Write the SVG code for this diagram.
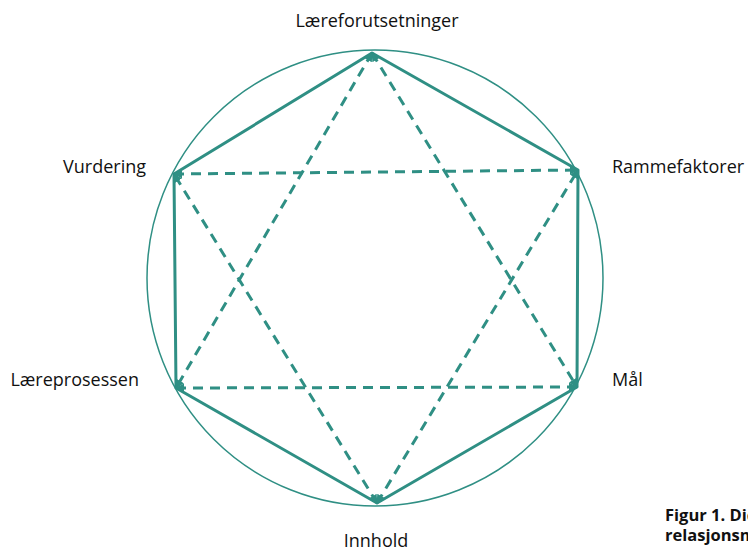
<svg xmlns="http://www.w3.org/2000/svg" width="748" height="549" viewBox="0 0 748 549">
<style>
.lbl{font-family:"Open Sans","Liberation Sans",sans-serif;font-size:18px;fill:#111}
.cap{font-family:"Open Sans","Liberation Sans",sans-serif;font-size:16.5px;font-weight:bold;fill:#111}
.solid{fill:none;stroke:#2F8F84;stroke-width:3;stroke-linejoin:round}
.dash{fill:none;stroke:#2F8F84;stroke-width:3;stroke-dasharray:10 7;marker-start:url(#ah);marker-end:url(#ah)}
</style>
<defs>
<marker id="ah" viewBox="0 0 10 10" refX="9" refY="5" markerWidth="3" markerHeight="3" orient="auto-start-reverse">
<path d="M0,0 L10,5 L0,10 z" fill="#2F8F84"/>
</marker>
</defs>
<rect width="748" height="549" fill="#fff"/>
<g id="circle"><circle cx="375" cy="278" r="228" fill="none" stroke="#2F8F84" stroke-width="1.5"/></g>
<g id="connectors">
<polygon class="solid" points="372,53 578,170 577,387 377,503 176,388 174,174"/>
<line class="dash" x1="372" y1="53" x2="577" y2="387"/>
<line class="dash" x1="372" y1="53" x2="176" y2="388"/>
<line class="dash" x1="176" y1="388" x2="577" y2="387"/>
<line class="dash" x1="377" y1="503" x2="174" y2="174"/>
<line class="dash" x1="377" y1="503" x2="578" y2="170"/>
<line class="dash" x1="174" y1="174" x2="578" y2="170"/>
</g>
<g id="n-laereforutsetninger"><text class="lbl" x="377" y="27" text-anchor="middle">Læreforutsetninger</text></g>
<g id="n-rammefaktorer"><text class="lbl" x="612" y="173">Rammefaktorer</text></g>
<g id="n-mal"><text class="lbl" x="612" y="386">Mål</text></g>
<g id="n-innhold"><text class="lbl" x="376" y="547" text-anchor="middle">Innhold</text></g>
<g id="n-vurdering"><text class="lbl" x="146" y="173" text-anchor="end">Vurdering</text></g>
<g id="n-laereprosessen"><text class="lbl" x="139" y="386" text-anchor="end">Læreprosessen</text></g>
<g id="caption">
<text class="cap" x="665" y="521">Figur 1. Didaktisk</text>
<text class="cap" x="665" y="541">relasjonsmodell</text>
</g>
</svg>
